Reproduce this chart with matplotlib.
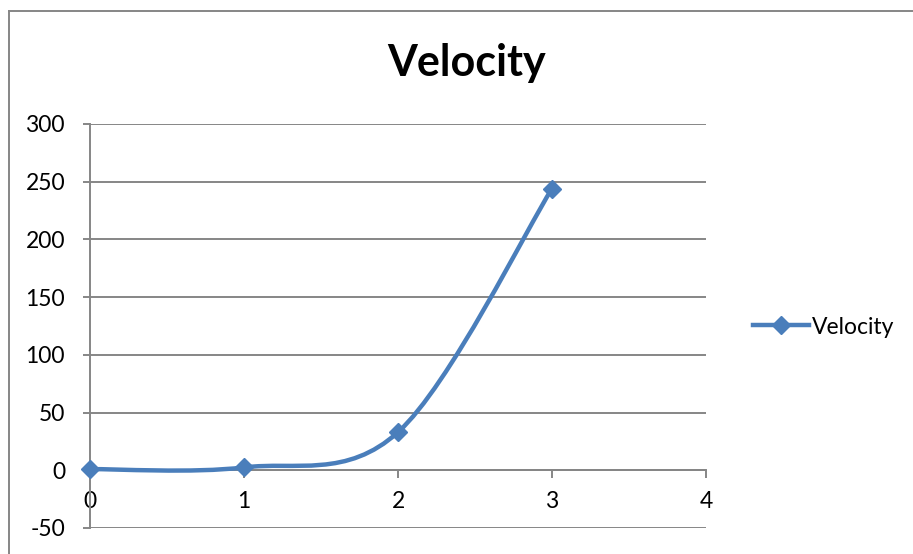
import matplotlib
matplotlib.use("Agg")
import matplotlib.pyplot as plt
from matplotlib.path import Path
from matplotlib.patches import PathPatch
from matplotlib.lines import Line2D
import numpy as np

plt.rcParams['font.family'] = ['Lato', 'DejaVu Sans']
plt.rcParams['axes.unicode_minus'] = False

# veri
zaman = [0, 1, 2, 3]
hiz = [1, 2.5, 33, 244]
y_ticks = [-50, 0, 50, 100, 150, 200, 250, 300]
x_ticks = [0, 1, 2, 3, 4]

renk = '#4A7EBB'
gri = '#868686'

fig = plt.figure(figsize=(9.13, 5.54), dpi=100)
ax = fig.add_axes([90/913, 1-528/554, 616/913, 404/554])

# Excel tarzi yumusak egri (Bezier kontrol noktalari veri noktalarindan)
p = np.column_stack([zaman, hiz]).astype(float)
pp = np.vstack([p[0], p, p[-1]])
verts = [tuple(p[0])]
codes = [Path.MOVETO]
for i in range(1, len(pp) - 2):
    c1 = pp[i] + (pp[i+1] - pp[i-1]) / 6
    c2 = pp[i+1] - (pp[i+2] - pp[i]) / 6
    verts += [tuple(c1), tuple(c2), tuple(pp[i+1])]
    codes += [Path.CURVE4] * 3
egri = PathPatch(Path(verts, codes), facecolor='none', edgecolor=renk, lw=3.2,
                 capstyle='round', joinstyle='round', zorder=3)
ax.add_patch(egri)
ax.plot(zaman, hiz, linestyle='none', marker='D', markersize=9, color=renk,
        markeredgecolor=renk, zorder=4, clip_on=False)

ax.set_xlim(0, 4)
ax.set_ylim(-50, 300)
ax.set_xticks(x_ticks)
ax.set_yticks(y_ticks)
ax.yaxis.grid(True, color=gri, lw=1.4)
ax.set_axisbelow(True)

for s in ['top', 'right']:
    ax.spines[s].set_visible(False)
ax.spines['bottom'].set_position(('data', 0))
ax.spines['bottom'].set_color(gri)
ax.spines['left'].set_color(gri)
ax.spines['bottom'].set_linewidth(1.4)
ax.spines['left'].set_linewidth(1.4)

ax.tick_params(axis='y', length=5, width=1.4, color=gri, labelsize=16.5, pad=13)
ax.tick_params(axis='x', length=6, width=1.4, color=gri, labelsize=16.5, pad=9)

fig.text(467/913, 1-63/554, 'Velocity', ha='center', va='center',
         fontsize=31, fontweight='bold')

leg_h = Line2D([], [], color=renk, lw=3.2, marker='D', markersize=9)
fig.legend([leg_h], ['Velocity'], loc='center left',
           bbox_to_anchor=(744/913, 1-327/554), frameon=False,
           fontsize=16.5, handlelength=2.45, handletextpad=0.1, borderaxespad=0)

# grafik cercevesi
fig.add_artist(Line2D([9/913, 9/913], [0, 1-11/554], color=gri, lw=1.4))
fig.add_artist(Line2D([9/913, 1], [1-11/554, 1-11/554], color=gri, lw=1.4))

fig.savefig('out.png', dpi=100)
